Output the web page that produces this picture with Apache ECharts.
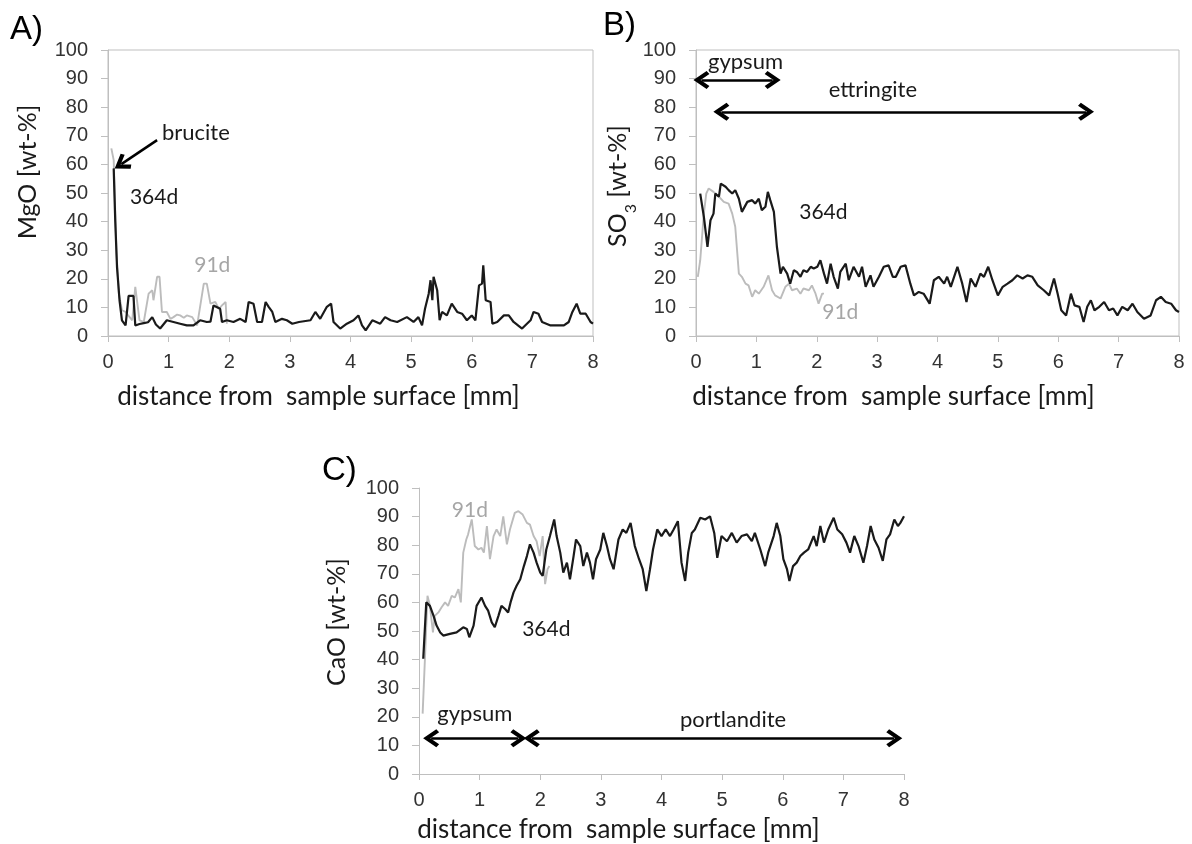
<!DOCTYPE html>
<html><head><meta charset="utf-8">
<script src="https://cdn.jsdelivr.net/npm/echarts/dist/echarts.min.js"></script>
<style>html,body{margin:0;padding:0;background:#fff}#c{width:1192px;height:844px}</style>
</head><body><div id="c"></div>
<script>
// ---------- data (x: distance [mm], y: wt-%) ----------
const mgo91 = [[0.055,65.6],[0.094,61.5],[0.14,28.8],[0.18,14.8],[0.23,9],[0.29,8.4],[0.34,7],[0.40,5.5],[0.45,17.2],[0.48,17.7],[0.52,5.5],[0.59,4.9],[0.67,14.8],[0.73,16],[0.75,12.5],[0.81,20.7],[0.85,20.7],[0.89,8.4],[0.97,8.4],[1.03,6],[1.08,6.6],[1.14,7.5],[1.19,7.2],[1.25,6.4],[1.30,7.2],[1.39,6.6],[1.47,3.7],[1.58,18.3],[1.63,18.3],[1.69,11.3],[1.77,11.9],[1.83,9.5],[1.88,10.7],[1.94,11.9],[1.96,4.3]];
const mgo364 = [[0.094,58.6],[0.12,40],[0.149,24],[0.19,12.5],[0.23,5.5],[0.29,3.7],[0.32,4],[0.34,14],[0.42,14],[0.45,3.7],[0.52,4.2],[0.59,4.5],[0.66,4.8],[0.73,6.6],[0.79,4],[0.86,2.6],[0.97,5.5],[1.08,4.9],[1.19,4.3],[1.30,3.7],[1.41,3.7],[1.52,5.5],[1.63,4.9],[1.69,5],[1.74,10.7],[1.85,9.5],[1.88,4.9],[1.96,5.5],[2.07,4.9],[2.18,6],[2.27,4.9],[2.32,11.9],[2.40,11.3],[2.46,4.9],[2.54,4.9],[2.60,11.9],[2.65,10.2],[2.71,8.4],[2.76,4.9],[2.87,6],[2.95,5.5],[3.04,4.3],[3.15,4.9],[3.34,5.5],[3.42,8.4],[3.50,6],[3.53,5.5],[3.61,10.2],[3.68,11.3],[3.72,4.9],[3.83,2.6],[3.94,4.3],[4.05,5.5],[4.13,7.2],[4.19,3.7],[4.25,2],[4.36,5.5],[4.49,4.3],[4.57,6.6],[4.66,5.5],[4.77,4.9],[4.93,6.6],[5.04,4.9],[5.12,6.6],[5.18,3.7],[5.23,9.6],[5.29,14.8],[5.32,19.5],[5.35,12.5],[5.37,20.7],[5.43,16],[5.47,5.5],[5.51,8.4],[5.59,7.2],[5.67,11.3],[5.76,8.4],[5.84,7.8],[5.92,5.5],[6.00,7.2],[6.06,5.5],[6.12,17.7],[6.17,18.3],[6.19,24.7],[6.23,12.5],[6.31,11.9],[6.34,4.3],[6.42,4.9],[6.53,7.2],[6.61,7.2],[6.69,4.9],[6.83,2.6],[6.97,5.5],[7.02,8.4],[7.10,7.8],[7.16,4.9],[7.30,3.7],[7.52,3.7],[7.60,4.9],[7.66,8.4],[7.73,11.3],[7.79,7.8],[7.88,7.8],[7.96,4.9],[8.0,4.3]];
const so3_91 = [[0.03,20.7],[0.07,26.5],[0.13,42.8],[0.17,49.8],[0.21,51.6],[0.29,50.4],[0.38,48.7],[0.46,46.9],[0.54,46.3],[0.60,42.8],[0.65,38.2],[0.71,21.8],[0.76,20.7],[0.82,18.3],[0.87,17.7],[0.93,13.7],[0.98,16],[1.04,14.8],[1.12,17.2],[1.20,21.2],[1.26,16],[1.31,14.2],[1.40,13.1],[1.48,17.2],[1.54,18.3],[1.59,16],[1.67,16.6],[1.73,14.8],[1.78,16.6],[1.87,16],[1.92,17.7],[1.98,14.8],[2.03,11.3],[2.09,14.8],[2.12,14.8]];
const so3_364 = [[0.07,49.8],[0.13,41.7],[0.19,31.2],[0.24,40.5],[0.29,42.8],[0.32,49.8],[0.38,48.7],[0.41,53.3],[0.49,52.2],[0.54,51],[0.60,49.8],[0.65,51],[0.71,48],[0.76,43.4],[0.85,46.9],[0.93,47.5],[0.98,46.3],[1.04,48],[1.09,44],[1.15,45.2],[1.19,50.4],[1.23,47.5],[1.29,43.4],[1.34,31.2],[1.40,21.8],[1.44,24.2],[1.51,21.8],[1.56,18.3],[1.62,23],[1.67,22.4],[1.73,20.7],[1.78,23],[1.84,22.4],[1.90,24.2],[1.95,23.6],[2.01,24.2],[2.06,26.5],[2.12,21.8],[2.17,18.3],[2.23,25.3],[2.28,20.7],[2.35,16.6],[2.39,22.4],[2.48,25.3],[2.53,19.5],[2.61,24.2],[2.70,20.7],[2.75,24.2],[2.81,17.2],[2.89,21.2],[2.94,17.2],[3.03,20.7],[3.11,24.2],[3.19,24.7],[3.26,20.7],[3.31,20.7],[3.39,24.2],[3.47,24.7],[3.55,18.3],[3.61,14.2],[3.69,15.4],[3.77,14.8],[3.87,11.3],[3.94,19.5],[4.02,20.7],[4.11,18.3],[4.16,20.7],[4.22,17.2],[4.33,24.2],[4.41,18.3],[4.48,11.9],[4.55,20.1],[4.63,17.2],[4.71,21.8],[4.77,20.7],[4.84,24.2],[4.91,19.5],[5.00,14.2],[5.08,17.2],[5.16,18.3],[5.24,19.5],[5.32,21.2],[5.41,20.1],[5.49,21.2],[5.57,20.7],[5.66,17.7],[5.76,16],[5.85,14.2],[5.93,20.1],[5.99,14.8],[6.05,9],[6.13,7.2],[6.21,14.8],[6.27,10.7],[6.35,10.2],[6.42,4.9],[6.48,10.2],[6.54,12.5],[6.60,9],[6.68,10.2],[6.76,11.9],[6.84,9],[6.91,9.6],[6.98,7.2],[7.06,10.2],[7.15,9],[7.23,11.3],[7.31,8.4],[7.42,6],[7.53,7.2],[7.62,12.5],[7.70,13.7],[7.78,11.9],[7.87,11.3],[7.95,9],[8.0,8.4]];
const cao91 = [[0.06,21.1],[0.10,41.4],[0.14,62.3],[0.18,58.8],[0.23,49.5],[0.26,55.3],[0.32,56.5],[0.37,58.2],[0.43,60],[0.48,58.8],[0.54,62.3],[0.59,61.7],[0.65,64.6],[0.69,60],[0.73,77.4],[0.78,82],[0.81,83.8],[0.87,89],[0.92,79.7],[0.98,78.5],[1.03,79.1],[1.07,77.4],[1.12,86.7],[1.17,75.1],[1.23,83.2],[1.28,85.5],[1.34,83.2],[1.39,90.1],[1.45,80.3],[1.50,85.5],[1.58,91.3],[1.64,91.9],[1.71,90.7],[1.78,87.8],[1.83,87.2],[1.89,83.2],[1.94,81.4],[1.99,76.2],[2.04,83.2],[2.08,66.4],[2.12,71.6],[2.15,72.7]];
const cao364 = [[0.07,40.3],[0.12,60],[0.18,58.8],[0.24,55.3],[0.29,51.9],[0.35,49.5],[0.40,48.4],[0.51,49],[0.62,49.5],[0.73,51.3],[0.79,50.7],[0.83,47.8],[0.90,51.9],[0.95,58.8],[1.03,61.7],[1.09,58.8],[1.14,57.1],[1.20,53],[1.25,51.3],[1.31,55.3],[1.36,58.8],[1.42,57.7],[1.47,56.5],[1.51,60],[1.56,63.5],[1.61,65.8],[1.67,68.1],[1.73,72.7],[1.78,76.2],[1.83,80.3],[1.89,77.4],[1.94,73.9],[2.00,70.4],[2.04,69.3],[2.10,78.5],[2.16,83.2],[2.23,89],[2.27,83.2],[2.33,77.4],[2.38,70.4],[2.44,73.9],[2.49,68.1],[2.55,76.2],[2.59,82],[2.66,79.7],[2.71,72.7],[2.77,77.4],[2.82,73.9],[2.87,68.1],[2.92,75.1],[2.99,78.5],[3.04,84.3],[3.10,79.7],[3.15,75.1],[3.21,71.6],[3.29,82],[3.36,85.5],[3.42,84.3],[3.49,87.8],[3.56,79.7],[3.63,75.1],[3.69,71.6],[3.75,64],[3.81,71.6],[3.86,78.5],[3.93,85.5],[4.00,83.2],[4.07,85.5],[4.14,83.2],[4.20,85.5],[4.27,88.4],[4.33,73.9],[4.39,67.5],[4.44,77.4],[4.50,84.3],[4.55,85.5],[4.64,89.6],[4.72,89],[4.80,90.1],[4.87,84.3],[4.92,75.6],[4.99,83.2],[5.08,81.4],[5.16,84.3],[5.24,80.9],[5.32,83.2],[5.41,83.8],[5.49,81.4],[5.54,84.3],[5.63,78.5],[5.71,72.7],[5.76,77.4],[5.85,83.2],[5.90,87.8],[5.96,83.2],[6.01,75.1],[6.07,71.6],[6.11,67.5],[6.17,72.7],[6.23,73.9],[6.29,76.2],[6.35,77.4],[6.42,78.5],[6.51,83.2],[6.56,79.7],[6.62,86.7],[6.68,80.9],[6.75,85.5],[6.84,89.6],[6.90,85.5],[6.98,83.8],[7.05,80.9],[7.11,77.4],[7.18,83.2],[7.25,79.7],[7.33,73.9],[7.39,79.7],[7.45,86.7],[7.51,82],[7.58,79.1],[7.65,74.5],[7.71,82],[7.77,83.8],[7.84,89],[7.90,86.7],[7.94,87.8],[8.0,90.1]];

const xTickStep = 1, xMin = 0, xMax = 8;
const yTickStep = 10, yMin = 0, yMax = 100;
const xTitle = 'distance from  sample surface [mm]';
const yTitles = ['MgO [wt-%]', 'SO{s|3} [wt-%]', 'CaO [wt-%]'];
const panelLetters = ['A)', 'B)', 'C)'];

// ---------- styles ----------
const TICKFONT = 'Liberation Sans, Arial, sans-serif';
const TXTFONT = 'Lato, "Open Sans", sans-serif';
const AXISCOL = '#bfbfbf';
const BLACK = '#1a1a1a';
const GREY = '#bcbcbc';
const CHEV = 'path://M5,0 L10,7.0 L8.3,8.5 L5,3.8 L1.7,8.5 L0,7.0 Z';

const grids = [
  {left: 108, top: 50, width: 485, height: 286, show: true, borderColor: '#bfbfbf', borderWidth: 1},
  {left: 696, top: 50, width: 483, height: 286, show: true, borderColor: '#bfbfbf', borderWidth: 1},
  {left: 419, top: 488, width: 485, height: 288}
];
const xShift = [64, 88, 86];
const xGap = [48, 48, 43];
const yGap = [68, 61, 70];
const yShift = [42, 14, 18];

function xAx(i) {
  return {
    type: 'value', gridIndex: i, min: xMin, max: xMax, interval: xTickStep,
    axisLine: {show: true, lineStyle: {color: AXISCOL, width: 1}},
    axisTick: {show: true, length: 6, lineStyle: {color: AXISCOL}},
    splitLine: {show: false},
    axisLabel: {fontFamily: TICKFONT, fontSize: 20, color: '#333', margin: 16},
    name: xTitle, nameLocation: 'middle', nameGap: xGap[i],
    nameTextStyle: {fontFamily: TXTFONT, fontSize: 26, color: BLACK, padding: [0, xShift[i], 0, 0]}
  };
}
function yAx(i) {
  return {
    type: 'value', gridIndex: i, min: yMin, max: yMax, interval: yTickStep,
    axisLine: {show: true, lineStyle: {color: AXISCOL, width: 1}},
    axisTick: {show: true, length: 7, lineStyle: {color: AXISCOL}},
    splitLine: {show: false},
    axisLabel: {fontFamily: TICKFONT, fontSize: 20, color: '#333', margin: 20},
    name: yTitles[i], nameLocation: 'middle', nameGap: yGap[i],
    nameTextStyle: {fontFamily: TXTFONT, fontSize: 25, color: BLACK, padding: [0, 0, 0, yShift[i]],
      rich: {s: {fontFamily: TXTFONT, fontSize: 16, color: BLACK, verticalAlign: 'bottom', lineHeight: 30, padding: [0,0,-6,0]}}}
  };
}
function txt(coord, text, color, size) {
  return {coord: coord, symbol: 'rect', symbolSize: 1, itemStyle: {color: 'rgba(0,0,0,0)'},
    label: {show: true, position: 'inside', formatter: text, color: color || BLACK, fontFamily: TXTFONT, fontSize: size || 22}};
}
function arrow(a, b, startHead) {
  return [{coord: a, symbol: startHead === false ? 'none' : CHEV}, {coord: b, symbol: CHEV}];
}
function mLine(items) {
  return {silent: true, symbol: [CHEV, CHEV], symbolSize: [18, 16],
    lineStyle: {color: '#000', width: 2.5, type: 'solid'}, label: {show: false}, emphasis: {disabled: true}, data: items};
}
function line(i, data, color, extra) {
  return Object.assign({type: 'line', xAxisIndex: i, yAxisIndex: i, data: data, showSymbol: false, symbol: 'none',
    lineStyle: {color: color, width: color === BLACK ? 2.2 : 1.9}, itemStyle: {color: color}, silent: true, z: color === BLACK ? 3 : 2}, extra || {});
}

const option = {
  animation: false,
  backgroundColor: '#fff',
  grid: grids,
  xAxis: [xAx(0), xAx(1), xAx(2)],
  yAxis: [yAx(0), yAx(1), yAx(2)],
  graphic: panelLetters.map((t, k) => ({type: 'text', left: [10, 603, 322][k], top: [13, 9, 454][k],
    style: {text: t, font: '33px "Liberation Sans", Arial, sans-serif', fill: '#000'}})),
  series: [
    line(0, mgo91, GREY),
    line(0, mgo364, BLACK, {
      markPoint: {silent: true, data: [txt([1.45, 71], 'brucite'), txt([0.76, 48.6], '364d', BLACK, 21), txt([1.72, 24.7], '91d', '#a6a6a6', 21)]},
      markLine: mLine([arrow([0.81, 68.5], [0.22, 60.1], false)])
    }),
    line(1, so3_91, GREY),
    line(1, so3_364, BLACK, {
      markPoint: {silent: true, data: [txt([0.82, 96], 'gypsum'), txt([2.93, 86], 'ettringite'), txt([2.11, 43.4], '364d', BLACK, 21), txt([2.39, 8.4], '91d', '#a6a6a6', 21)]},
      markLine: mLine([arrow([0.09, 89.5], [1.27, 89.5]), arrow([0.42, 78.4], [6.46, 78.4])])
    }),
    line(2, cao91, GREY),
    line(2, cao364, BLACK, {
      markPoint: {silent: true, data: [txt([0.84, 92.4], '91d', '#a6a6a6', 21), txt([2.1, 50.7], '364d', BLACK, 21), txt([0.92, 21], 'gypsum'), txt([5.18, 19], 'portlandite')]},
      markLine: mLine([arrow([0.2, 12.5], [1.64, 12.5]), arrow([1.86, 12.5], [7.84, 12.5])])
    })
  ]
};
const chart = echarts.init(document.getElementById('c'), null, {renderer: 'canvas'});
chart.setOption(option);
</script></body></html>
